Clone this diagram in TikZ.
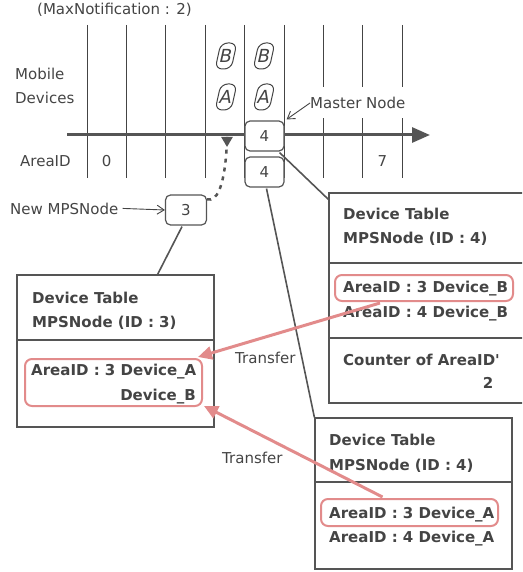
\documentclass[tikz,border=0pt]{standalone}
\usepackage{fontspec}
\setmainfont{DejaVu Sans}
\newfontfamily\tabfont{DejaVu Sans}
\usetikzlibrary{arrows.meta,calc}
\definecolor{ink}{HTML}{444444}
\definecolor{rule}{HTML}{555555}
\definecolor{salmon}{HTML}{E28B8B}

\begin{document}
\begin{tikzpicture}[x=1pt, y=-1pt,
  lbl/.style={inner sep=0pt, anchor=base west, text=ink, font=\fontsize{15}{18}\selectfont},
  cell/.style={lbl, font=\fontsize{15}{18}\tabfont\bfseries},
  id node/.style={draw=rule, line width=1.2pt, fill=white, rounded corners=5pt, minimum width=39pt, minimum height=30pt, inner sep=0pt, text=ink, font=\fontsize{15}{18}\selectfont},
  device/.style={draw=ink, line width=1pt, rounded corners=7pt, minimum width=16pt, minimum height=26pt, inner sep=0pt, xslant=0.22, text=ink, font=\fontsize{18}{20}\selectfont},
  table box/.style={draw=rule, line width=1.2pt, inner sep=0pt},
  hl box/.style={draw=salmon, line width=2pt, rounded corners=7pt, inner sep=0pt},
  transfer/.style={draw=salmon, line width=3pt, -{Triangle[length=14pt, width=13pt]}},
  link/.style={draw=rule, line width=1.6pt}]
  \path[use as bounding box, clip] (0,0) rectangle (522,572);

  \foreach \i in {0,...,8}
    \draw[ink, line width=1pt] ({87+39.4*\i},25) -- ({87+39.4*\i},178);

  \coordinate (axis start) at (67,135);
  \coordinate (axis end) at (430,135);
  \draw[rule, line width=3pt, -{Triangle[length=18pt, width=15pt]}] (axis start) -- (axis end);

  \node[lbl] (title) at (37,15) {(MaxNotification : 2)};
  \node[lbl] (mobile) at (15,80) {Mobile};
  \node[lbl] (devices) at (15,104) {Devices};
  \node[lbl] (areaid) at (20,166) {AreaID};
  \node[lbl, anchor=base] (area0) at (106.7,166) {0};
  \node[lbl, anchor=base] (area7) at (382.5,166) {7};

  \node[device] (b4) at (226,56) {B};
  \node[device] (a4) at (226,97) {A};
  \node[device] (b5) at (264,56) {B};
  \node[device] (a5) at (264,97) {A};

  \node[id node] (n4a) at (264.5,136) {4};
  \node[id node] (n4b) at (264.5,172) {4};
  \node[id node, minimum width=41pt] (n3) at (186,210) {3};

  \node[lbl, anchor=west, fill=white, minimum height=31pt] (master) at (310,103) {Master Node};
  \draw[ink, line width=0.9pt, -{Straight Barb[length=7pt, width=9pt]}] (master.west) -- ($(n4a.north east)+(2,-1)$);

  \node[lbl] (newnode) at (10,214) {New MPSNode};
  \draw[ink, line width=0.9pt, -{Straight Barb[length=7pt, width=9pt]}] ($(newnode.east)+(4,0)$) -- (n3.west);

  \coordinate (up) at (227,147);
  \draw[rule, line width=2.5pt, dash pattern=on 4pt off 5pt, -{Triangle[length=10pt, width=11pt]}] ($(n3.north east)+(0,5)$) to[out=-15, in=90] (up);

  % tables
  \node[table box, minimum width=197pt, minimum height=152pt] (tab3) at (115.5,351) {};
  \draw[table box] (tab3.west |- 0,340) -- (tab3.east |- 0,340);
  \node[cell] (tab3t) at (32,303) {Device Table};
  \node[cell] (tab3n) at (32,327) {MPSNode (ID : 3)};
  \node[cell] (tab3a) at (31,375) {AreaID : 3 Device\_A};
  \node[cell, anchor=base east] (tab3b) at (196,400) {Device\_B};
  \node[hl box, minimum width=177pt, minimum height=47pt] (hl3) at (113.5,382.5) {};

  \node[table box, minimum width=206pt, minimum height=210pt] (tab4b) at (432,298) {};
  \draw[table box] (tab4b.west |- 0,263) -- (tab4b.east |- 0,263);
  \draw[table box] (tab4b.west |- 0,338) -- (tab4b.east |- 0,338);
  \node[cell] (tab4bt) at (343,219) {Device Table};
  \node[cell] (tab4bn) at (343,243) {MPSNode (ID : 4)};
  \node[cell] (tab4b3) at (343,292) {AreaID : 3 Device\_B};
  \node[cell] (tab4b4) at (343,317) {AreaID : 4 Device\_B};
  \node[cell] (counter) at (343,365) {Counter of AreaID'};
  \node[cell, anchor=base] (count) at (488,388) {2};
  \node[hl box, minimum width=178pt, minimum height=26pt] (hl4b) at (424,288) {};

  \node[table box, minimum width=197pt, minimum height=151pt] (tab4a) at (413.5,493.5) {};
  \draw[table box] (tab4a.west |- 0,482) -- (tab4a.east |- 0,482);
  \node[cell] (tab4at) at (329,445) {Device Table};
  \node[cell] (tab4an) at (329,470) {MPSNode (ID : 4)};
  \node[cell] (tab4a3) at (329,518) {AreaID : 3 Device\_A};
  \node[cell] (tab4a4) at (329,542) {AreaID : 4 Device\_A};
  \node[hl box, minimum width=177pt, minimum height=27pt] (hl4a) at (409.5,512.5) {};

  \draw[link] ($(n4a.south east)+(-5,1)$) -- ($(tab4b.north west)+(0,7)$);
  \draw[link] ($(n4b.south)+(2,1)$) -- (tab4a.north west);
  \draw[link] ($(n3.south)+(-4,1)$) -- ($(tab3.north east)+(-57,0)$);

  \draw[transfer] ($(hl4b.south)+(-44,1)$) -- ($(hl3.north east)+(-5,-1)$);
  \draw[transfer] ($(hl4a.north)+(-27,-1)$) -- ($(hl3.south east)+(1,-1)$);
  \node[lbl] (xfer1) at (235,363) {Transfer};
  \node[lbl] (xfer2) at (222,463) {Transfer};
\end{tikzpicture}
\end{document}
